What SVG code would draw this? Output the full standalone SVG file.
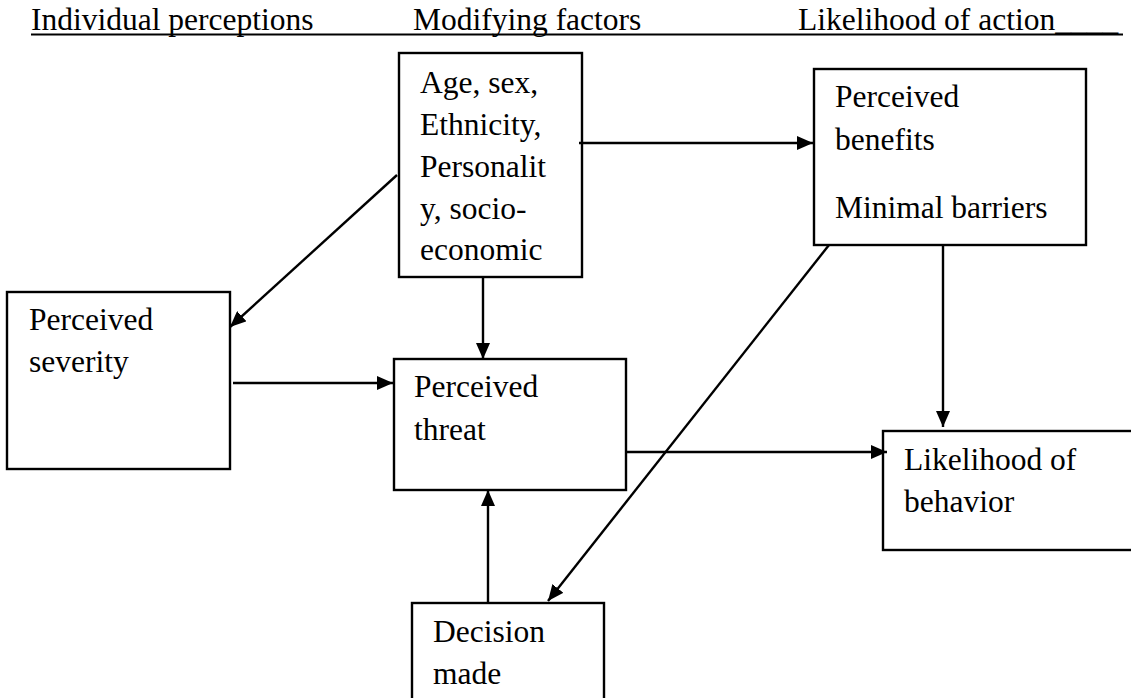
<svg xmlns="http://www.w3.org/2000/svg" width="1131" height="698" viewBox="0 0 1131 698" font-family="'Liberation Serif', 'Times New Roman', 'DejaVu Serif', serif">
<style>
text{font-family:'Liberation Serif','Times New Roman','DejaVu Serif',serif;font-size:31.5px;fill:#000}
.box{fill:#fff;stroke:#000;stroke-width:2.4}
.c{stroke:#000;stroke-width:2.4;fill:none}
</style>
<defs>
<marker id="ah" viewBox="0 0 16 14" refX="16" refY="7" markerWidth="16" markerHeight="14" markerUnits="userSpaceOnUse" orient="auto">
<path d="M0,0 L16,7 L0,14 z" fill="#000"/>
</marker>
</defs>
<rect width="1131" height="698" fill="#fff"/>
<g id="header">
<text x="31" y="30">Individual perceptions</text>
<text x="413" y="30">Modifying factors</text>
<text x="798" y="30">Likelihood of action____</text>
<line x1="31" y1="34.5" x2="1123" y2="34.5" stroke="#000" stroke-width="2.2"/>
</g>
<g id="modifying">
<rect class="box" x="399" y="53" width="183" height="224"/>
<text x="420" y="93">Age, sex,</text>
<text x="420" y="135">Ethnicity,</text>
<text x="420" y="177">Personalit</text>
<text x="420" y="219">y, socio-</text>
<text x="420" y="260">economic</text>
</g>
<g id="benefits">
<rect class="box" x="814" y="69" width="272" height="176"/>
<text x="835" y="107">Perceived</text>
<text x="835" y="150">benefits</text>
<text x="835" y="218">Minimal barriers</text>
</g>
<g id="severity">
<rect class="box" x="7" y="292" width="223" height="177"/>
<text x="29" y="330">Perceived</text>
<text x="29" y="372">severity</text>
</g>
<g id="threat">
<rect class="box" x="394" y="359" width="232" height="131"/>
<text x="414" y="397">Perceived</text>
<text x="414" y="440">threat</text>
</g>
<g id="likelihood">
<rect class="box" x="883" y="431" width="270" height="119"/>
<text x="904" y="470">Likelihood of</text>
<text x="904" y="512">behavior</text>
</g>
<g id="decision">
<rect class="box" x="412" y="603" width="192" height="120"/>
<text x="433" y="642">Decision</text>
<text x="433" y="684">made</text>
</g>
<g id="connectors">
<line class="c" x1="579" y1="143" x2="813" y2="143" marker-end="url(#ah)"/>
<line class="c" x1="397" y1="175" x2="230" y2="327" marker-end="url(#ah)"/>
<line class="c" x1="483" y1="277" x2="483" y2="359" marker-end="url(#ah)"/>
<line class="c" x1="233" y1="383" x2="393" y2="383" marker-end="url(#ah)"/>
<line class="c" x1="626" y1="452" x2="887" y2="452" marker-end="url(#ah)"/>
<line class="c" x1="943" y1="245" x2="943" y2="427" marker-end="url(#ah)"/>
<line class="c" x1="829" y1="245" x2="548" y2="601" marker-end="url(#ah)"/>
<line class="c" x1="488" y1="603" x2="488" y2="490" marker-end="url(#ah)"/>
</g>
</svg>
